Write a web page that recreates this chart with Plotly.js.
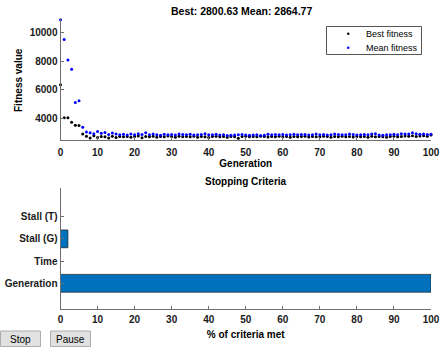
<!DOCTYPE html>
<html>
<head>
<meta charset="utf-8">
<script src="https://cdn.plot.ly/plotly-3.0.1.min.js"></script>
<style>html,body{margin:0;padding:0;background:#fff;}#chart{width:441px;height:349px;}</style>
</head>
<body>
<div id="chart"></div>
<script>
// ---- data ----
var bestFitness = [6330,4020,4020,3700,3490,3470,2880,2720,2600,2750,
  2640,2700,2690,2600,2720,2640,2700,2680,2710,2650,
  2700,2740,2620,2700,2680,2720,2650,2700,2690,2730,
  2700,2650,2720,2690,2700,2680,2720,2650,2700,2690,
  2640,2700,2720,2680,2700,2650,2710,2690,2580,2700,
  2720,2690,2700,2680,2720,2700,2660,2700,2690,2720,
  2680,2700,2650,2710,2690,2700,2720,2660,2700,2690,
  2680,2720,2700,2650,2700,2690,2720,2680,2700,2660,
  2710,2690,2700,2650,2720,2690,2700,2680,2650,2700,
  2720,2690,2700,2740,2720,2760,2700,2730,2750,2720,2800.63];
var meanFitness = [10900,9510,8070,7420,5080,5210,3350,3020,2960,2900,
  3050,2930,2990,2840,2950,2880,2820,2860,2800,2870,
  2830,2900,2850,2960,2820,2880,2830,2790,2860,2830,
  2850,2800,2870,2840,2820,2860,2810,2830,2850,2900,
  2820,2830,2860,2800,2830,2780,2790,2810,2830,2840,
  2810,2790,2800,2830,2780,2790,2860,2830,2850,2820,
  2840,2810,2830,2860,2820,2840,2850,2810,2830,2880,
  2820,2840,2800,2830,2870,2850,2820,2830,2880,2840,
  2810,2830,2850,2820,2880,2890,2800,2790,2830,2830,
  2860,2820,2900,2880,2870,2960,2900,2860,2880,2840,2864.77];
var generations = [];
for (var i = 0; i < bestFitness.length; i++) generations.push(i);

var seriesNames = ['Best fitness', 'Mean fitness'];
var seriesColors = ['#000000', '#0000ff'];

var criteria = ['Generation', 'Time', 'Stall (G)', 'Stall (T)'];
var criteriaMet = [100, 0, 2, 0];

var topXTicks = [0,10,20,30,40,50,60,70,80,90,100];
var topYTicks = [4000,6000,8000,10000];

// ---- layout helpers ----
var W = 441, H = 349;
function px(x){ return x / W; }
function py(y){ return 1 - y / H; }
var axisColor = '#6e6e6e';
var FAM = 'Liberation Sans, Arial, sans-serif';
var tickFont = {family: FAM, size: 10, color: '#1a1a1a', weight: 'bold'};
var boldFont = {family: FAM, size: 10, color: '#000', weight: 'bold'};

var traces = [
  {x: generations, y: bestFitness, type: 'scatter', mode: 'markers', name: seriesNames[0],
   marker: {color: seriesColors[0], size: 3}, cliponaxis: false, xaxis: 'x', yaxis: 'y'},
  {x: generations, y: meanFitness, type: 'scatter', mode: 'markers', name: seriesNames[1],
   marker: {color: seriesColors[1], size: 3}, cliponaxis: false, xaxis: 'x', yaxis: 'y'},
  {x: criteriaMet, y: criteria, type: 'bar', orientation: 'h', width: 0.8,
   marker: {color: '#0072BD', line: {color: '#1a1a1a', width: 0.7}}, xaxis: 'x2', yaxis: 'y2'}
];

// manual legend (compact, like the reference)
var legendBox = {x0: 326.5, x1: 421.5, y0: 26.5, y1: 54.5};
var legendRows = [33.7, 47.7];
var shapes = [
  {type: 'rect', xref: 'paper', yref: 'paper', x0: px(legendBox.x0), x1: px(legendBox.x1),
   y0: py(legendBox.y1), y1: py(legendBox.y0), fillcolor: '#ffffff', line: {color: '#555555', width: 1}},
  {type: 'rect', xref: 'paper', yref: 'paper', x0: px(0.5), x1: px(40.5), y0: py(346.5), y1: py(331),
   fillcolor: '#e1e1e1', line: {color: '#adadad', width: 1}},
  {type: 'rect', xref: 'paper', yref: 'paper', x0: px(50.5), x1: px(90.5), y0: py(346.5), y1: py(331),
   fillcolor: '#e1e1e1', line: {color: '#adadad', width: 1}}
];
var annotations = [
  {text: 'Best: 2800.63 Mean: 2864.77', xref: 'paper', yref: 'paper', x: px(241), y: py(11),
   showarrow: false, xanchor: 'center', yanchor: 'middle',
   font: {family: FAM, size: 10.5, color: '#000', weight: 'bold'}},
  {text: 'Fitness value', xref: 'paper', yref: 'paper', x: px(18), y: py(80), textangle: -90,
   showarrow: false, xanchor: 'center', yanchor: 'middle', font: boldFont},
  {text: 'Stopping Criteria', xref: 'paper', yref: 'paper', x: px(246), y: py(182),
   showarrow: false, xanchor: 'center', yanchor: 'middle', font: boldFont},
  {text: 'Stop', xref: 'paper', yref: 'paper', x: px(20.5), y: py(339),
   showarrow: false, xanchor: 'center', yanchor: 'middle', font: {family: FAM, size: 10, color: '#000'}},
  {text: 'Pause', xref: 'paper', yref: 'paper', x: px(70.5), y: py(339),
   showarrow: false, xanchor: 'center', yanchor: 'middle', font: {family: FAM, size: 10, color: '#000'}}
];
for (var k = 0; k < seriesNames.length; k++) {
  shapes.push({type: 'circle', xref: 'paper', yref: 'paper',
    x0: px(347), x1: px(349.5), y0: py(legendRows[k] + 1.25), y1: py(legendRows[k] - 1.25),
    fillcolor: seriesColors[k], line: {width: 0}});
  annotations.push({text: seriesNames[k], xref: 'paper', yref: 'paper', x: px(364), y: py(legendRows[k]),
    showarrow: false, xanchor: 'left', yanchor: 'middle', font: {family: FAM, size: 9, color: '#000'}});
}

var layout = {
  width: W, height: H,
  margin: {l: 0, r: 0, t: 0, b: 0},
  paper_bgcolor: '#ffffff', plot_bgcolor: '#ffffff',
  showlegend: false,
  xaxis: {domain: [px(60.5), px(431)], range: [0, 100], tickvals: topXTicks,
    showgrid: false, zeroline: false, showline: true, linecolor: axisColor, linewidth: 1,
    ticks: 'inside', ticklen: 3, tickcolor: axisColor, tickfont: tickFont, anchor: 'y',
    ticklabelstandoff: 3,
    title: {text: 'Generation', font: boldFont, standoff: 3}},
  yaxis: {domain: [py(139.5), py(18)], range: [2491, 11018], tickvals: topYTicks,
    tickformat: 'd',
    showgrid: false, zeroline: false, showline: true, linecolor: axisColor, linewidth: 1,
    ticks: 'inside', ticklen: 3, tickcolor: axisColor, tickfont: tickFont, anchor: 'x'},
  xaxis2: {domain: [px(60.5), px(431)], range: [0, 100], tickvals: topXTicks,
    showgrid: false, zeroline: false, showline: true, linecolor: axisColor, linewidth: 1,
    ticks: 'inside', ticklen: 3, tickcolor: axisColor, tickfont: tickFont, anchor: 'y2',
    ticklabelstandoff: 1,
    title: {text: '% of criteria met', font: boldFont, standoff: 6}},
  yaxis2: {domain: [py(309), py(188)], type: 'category', categoryarray: criteria,
    range: [-1.158, 4.29],
    showgrid: false, zeroline: false, showline: true, linecolor: axisColor, linewidth: 1,
    ticks: 'inside', ticklen: 3, tickcolor: axisColor, tickfont: tickFont, anchor: 'x2'},
  shapes: shapes,
  annotations: annotations
};

Plotly.newPlot('chart', traces, layout, {displayModeBar: false, staticPlot: true});
</script>
</body>
</html>
